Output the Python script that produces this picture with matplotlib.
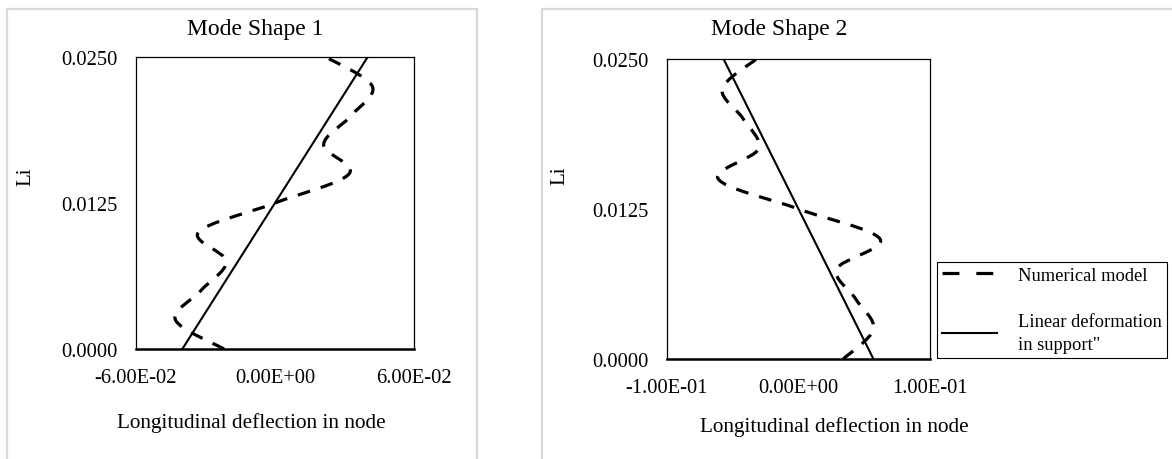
import matplotlib
matplotlib.use("Agg")
import matplotlib.pyplot as plt
import numpy as np
from matplotlib.lines import Line2D
from matplotlib.path import Path
from matplotlib.patches import PathPatch, Rectangle

plt.rcParams['font.family'] = ['Liberation Serif', 'DejaVu Serif']

# node heights (Li) shared by both mode shapes
li = [0.0, 0.0025, 0.005, 0.0075, 0.01, 0.0125, 0.015, 0.0175, 0.02, 0.0225, 0.025]

# mode shape 1
mode1_numerical = [-0.022, -0.043, -0.032, -0.021, -0.033, 0.0, 0.032, 0.021, 0.033, 0.042, 0.022]
mode1_linear = [-0.040, -0.032, -0.024, -0.016, -0.008, 0.0, 0.008, 0.016, 0.024, 0.032, 0.040]

# mode shape 2
mode2_numerical = [0.034, 0.057, 0.0435, 0.029, 0.062, 0.0, -0.061, -0.0305, -0.042, -0.058, -0.032]
mode2_linear = [0.057, 0.0456, 0.0342, 0.0228, 0.0114, 0.0, -0.0114, -0.0228, -0.0342, -0.0456, -0.057]

mode1_xticks = [-0.06, 0.0, 0.06]
mode1_xlabels = ['-6.00E-02', '0.00E+00', '6.00E-02']
mode2_xticks = [-0.1, 0.0, 0.1]
mode2_xlabels = ['-1.00E-01', '0.00E+00', '1.00E-01']
yticks = [0.0, 0.0125, 0.025]
ylabels = ['0.0000', '0.0125', '0.0250']

W, H = 1172, 460


def smooth_path(x, y):
    # Excel-style smoothed line: cubic bezier through each node
    pts = np.column_stack([x, y])
    n = len(pts)
    verts = [pts[0]]
    codes = [Path.MOVETO]
    for i in range(n - 1):
        p0 = pts[max(i - 1, 0)]
        p1 = pts[i]
        p2 = pts[i + 1]
        p3 = pts[min(i + 2, n - 1)]
        verts += [p1 + (p2 - p0) / 6, p2 - (p3 - p1) / 6, p2]
        codes += [Path.CURVE4] * 3
    return Path(verts, codes)


def px_axes(fig, x0, y0, x1, y1):
    return fig.add_axes([x0 / W, 1 - y1 / H, (x1 - x0) / W, (y1 - y0) / H])


def style_axes(ax, xlim, xticks, xlabels):
    ax.set_xlim(xlim)
    ax.set_ylim(0, 0.025)
    ax.set_xticks(xticks)
    ax.set_xticklabels(xlabels)
    ax.set_yticks(yticks)
    ax.set_yticklabels(ylabels)
    ax.tick_params(length=0, labelsize=14.8, pad=13.5, colors='black')
    for s in ax.spines.values():
        s.set_linewidth(0.9)
        s.set_color('black')
    ax.spines['bottom'].set_linewidth(1.8)


fig = plt.figure(figsize=(W / 100, H / 100), dpi=100)

# panel borders
fig.patches.append(Rectangle((7 / W, -0.1), (477 - 7) / W, 1 - 10 / H + 0.1,
                             transform=fig.transFigure, fill=False,
                             edgecolor='#d9d9d9', linewidth=1.6))
fig.patches.append(Rectangle((542 / W, -0.1), 0.6, 1 - 10 / H + 0.1,
                             transform=fig.transFigure, fill=False,
                             edgecolor='#d9d9d9', linewidth=1.6))

dash = (0, (4, 3.5))

ax1 = px_axes(fig, 136, 58, 414, 350)
style_axes(ax1, (-0.06, 0.06), mode1_xticks, mode1_xlabels)
ax1.add_patch(PathPatch(smooth_path(mode1_numerical, li), fill=False,
                        edgecolor='black', linewidth=2.3, linestyle=dash,
                        capstyle='butt'))
ax1.plot(mode1_linear, li, color='black', linewidth=1.5)
ax1.text(0.428, 1.096, 'Mode Shape 1', transform=ax1.transAxes,
         ha='center', va='center', fontsize=17)
ax1.set_xlabel('Longitudinal deflection in node', fontsize=15.3)
ax1.xaxis.set_label_coords(0.414, -0.25)
ax1.xaxis.label.set_va('center')
ax1.set_ylabel('Li', fontsize=15)
ax1.yaxis.set_label_coords(-0.397, 0.592)
ax1.yaxis.label.set_va('center')

ax2 = px_axes(fig, 667, 60, 930, 360)
style_axes(ax2, (-0.1, 0.1), mode2_xticks, mode2_xlabels)
ax2.add_patch(PathPatch(smooth_path(mode2_numerical, li), fill=False,
                        edgecolor='black', linewidth=2.3, linestyle=dash,
                        capstyle='butt'))
ax2.plot(mode2_linear, li, color='black', linewidth=1.5)
ax2.text(0.426, 1.1, 'Mode Shape 2', transform=ax2.transAxes,
         ha='center', va='center', fontsize=17)
ax2.set_xlabel('Longitudinal deflection in node', fontsize=15.3)
ax2.xaxis.set_label_coords(0.635, -0.223)
ax2.xaxis.label.set_va('center')
ax2.set_ylabel('Li', fontsize=15)
ax2.yaxis.set_label_coords(-0.407, 0.613)
ax2.yaxis.label.set_va('center')

handles = [Line2D([], [], color='black', linewidth=2.3, linestyle=(0, (5.3, 5.3))),
           Line2D([], [], color='black', linewidth=1.5)]
leg = fig.legend(handles, ['Numerical model', 'Linear deformation\nin support"'],
                 loc='upper left', bbox_to_anchor=(937 / W, 1 - 263 / H),
                 borderaxespad=0, fontsize=13.3, frameon=True, fancybox=False,
                 edgecolor='black', framealpha=1, borderpad=0.25,
                 handlelength=3.0, handletextpad=1.15, labelspacing=1.6)
leg.get_frame().set_linewidth(0.8)
for t in leg.get_texts():
    t.set_linespacing(1.45)

fig.savefig('out.png', dpi=100)
